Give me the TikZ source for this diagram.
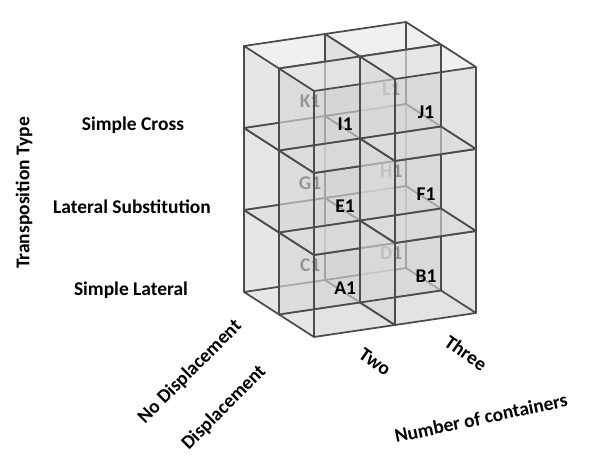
\documentclass[tikz,border=0pt]{standalone}
\usepackage{fontspec}
\setmainfont{Carlito}
\usepackage{tikz}
\usetikzlibrary{positioning}

\tikzset{
  cubeedge/.style={draw=black!70,line width=1.5pt,line join=round},
  cubefront/.style={fill=black!17,fill opacity=0.65},
  cubeside/.style={fill=black!15,fill opacity=0.65},
  cubetop/.style={fill=black!9,fill opacity=0.65},
  axislabel/.style={font=\fontsize{16.6}{20}\selectfont\bfseries},
  backlabel/.style={axislabel,text=black!90},
  frontlabel/.style={axislabel,text=black}
}

% one glass box at column #1, depth #2, row #3
\newcommand{\glasscube}[3]{%
  \fill[cubefront] (#1,#2+1,#3) -- ++(1,0,0) -- ++(0,0,1) -- ++(-1,0,0) -- cycle;
  \fill[cubeside] (#1,#2,#3) -- ++(0,1,0) -- ++(0,0,1) -- ++(0,-1,0) -- cycle;
  \fill[cubetop] (#1,#2,#3+1) -- ++(1,0,0) -- ++(0,1,0) -- ++(-1,0,0) -- cycle;
  \draw[cubeedge] (#1,#2,#3) -- ++(1,0,0) -- ++(0,1,0) -- ++(-1,0,0) -- cycle;
  \draw[cubeedge] (#1,#2,#3+1) -- ++(1,0,0) -- ++(0,1,0) -- ++(-1,0,0) -- cycle;
  \draw[cubeedge] (#1,#2,#3) -- ++(0,0,1);
  \draw[cubeedge] (#1+1,#2,#3) -- ++(0,0,1);
  \draw[cubeedge] (#1,#2+1,#3) -- ++(0,0,1);
  \draw[cubeedge] (#1+1,#2+1,#3) -- ++(0,0,1);
}

\begin{document}
\begin{tikzpicture}
	\useasboundingbox (0,0) rectangle (17.7,14.07);
	% the boxes
	\begin{scope}[shift={(7.32,5.31)},x={(2.43cm,0.36cm)},y={(1.05cm,-0.675cm)},z={(0cm,2.46cm)}]
		% no displacement (back)
		\foreach \i in {0,1}
			\foreach \k in {0,1,2}
				\glasscube{\i}{0}{\k};
		\foreach \name/\i/\k in {C1/0/0,D1/1/0,G1/0/1,H1/1/1,K1/0/2,L1/1/2}
			\node[backlabel] (\name) at (\i+0.6,0.5,\k+0.375) {\name};
		% displacement (front)
		\foreach \i in {0,1}
			\foreach \k in {0,1,2}
				\glasscube{\i}{1}{\k};
		\foreach \name/\i/\k in {A1/0/0,B1/1/0,E1/0/1,F1/1/1,I1/0/2,J1/1/2}
			\node[frontlabel] (\name) at (\i+0.6,1.5,\k+0.375) {\name};
	\end{scope}
	% axes
	\node[axislabel,rotate=90] (ttype) at (0.72,8.28) {Transposition Type};
	\node[axislabel] (scross) at (3.99,10.32) {Simple Cross};
	\node[axislabel] (lsubst) at (3.96,7.86) {Lateral Substitution};
	\node[axislabel] (slateral) at (3.93,5.37) {Simple Lateral};
	\node[axislabel,rotate=45] (nodisp) at (5.70,2.91) {No Displacement};
	\node[axislabel,rotate=45] (disp) at (6.72,1.83) {Displacement};
	\node[axislabel,rotate=-35] (two) at (11.25,3.21) {Two};
	\node[axislabel,rotate=-35] (three) at (13.98,3.48) {Three};
	\node[axislabel,rotate=12] (ncont) at (14.43,1.53) {Number of containers};
\end{tikzpicture}
\end{document}
